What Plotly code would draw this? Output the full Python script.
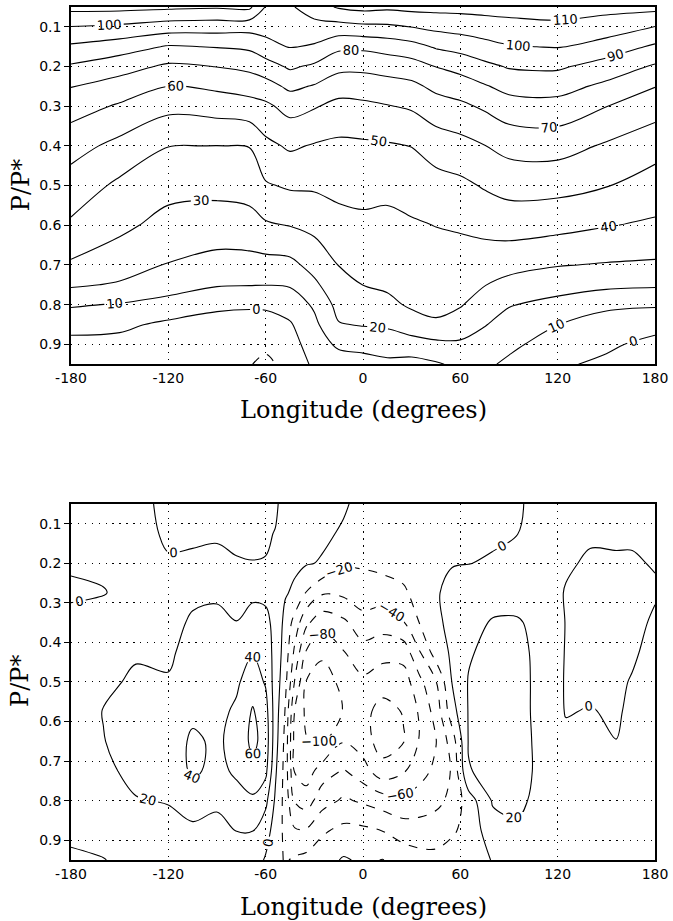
import plotly.graph_objects as go

# ---------------- data: upper panel (temperature-like field) ----------------
lon_top = [-180, -150, -120, -90, -70, -60, -45, -30, -15, 0, 15, 30, 45, 60, 75, 90, 120, 150, 180]
p_top = [0.05, 0.1, 0.15, 0.2, 0.25, 0.3, 0.4, 0.5, 0.6, 0.7, 0.75, 0.8, 0.85, 0.9, 0.95]
# one vertical profile (values at p_top) per longitude in lon_top
top_profiles = [
    [113, 99.8, 88.4, 78.8, 70.3, 64.4, 53.7, 45.7, 38.5, 28.6, 21.4, 11.1, 3.6, -3, -6],
    [113, 98.2, 84.7, 74, 65.7, 58.8, 47.2, 38, 32.3, 24.3, 19, 9.3, 2.1, -3, -6],
    [111.9, 95.1, 79.1, 68.3, 59.7, 52.8, 40.2, 33.3, 26.6, 19.5, 13.8, 6.9, -2, -6, -8],
    [111, 94.4, 80.5, 70.2, 61.9, 54.4, 39.9, 32.8, 25.4, 16.6, 10.8, 2.2, -4, -7, -9],
    [112, 93.5, 81.9, 72.4, 64.1, 56.3, 40.3, 33.8, 26.4, 16.5, 10.4, 1.3, -4, -8, -9.5],
    [99.5, 94, 86.2, 75.7, 66.1, 58, 47.5, 39, 28.8, 16.7, 10.2, 1.2, -3, -8, -12],
    [98.5, 95.3, 90.6, 81.5, 72.1, 63.5, 51.4, 41.3, 30.3, 17.4, 10.9, 4.6, -1, -4, -7],
    [106, 96, 88.9, 78.2, 69.2, 60.8, 49.2, 41.4, 32.7, 23.4, 18.1, 11.4, 7.7, 4.9, 2],
    [111, 96.4, 82.2, 72.8, 64.3, 57.2, 48, 42.7, 36.7, 30.2, 26.6, 23.2, 19.4, 11.8, 5],
    [113, 97.8, 82, 72.4, 64.7, 58, 48.4, 43.2, 37.9, 32.6, 30.1, 25.4, 20.7, 13.2, 6],
    [112, 98.3, 83.9, 73.9, 66.2, 59.5, 49, 42.5, 37.5, 33.3, 31.4, 27.9, 21.6, 14.2, 8],
    [113, 100.2, 86.4, 75.6, 67.7, 61.3, 50.2, 44.2, 38.9, 35.1, 33.2, 31.3, 26, 15.3, 7],
    [113, 102.6, 91.1, 80.2, 72.3, 65.9, 54.4, 46.3, 40.2, 35.9, 33.9, 31.9, 29, 17.4, 9],
    [113, 104, 93.4, 83.4, 75, 68, 56.7, 47.8, 41.1, 35.8, 33.3, 30.8, 25.2, 18.5, 12],
    [113, 106, 96.4, 87.6, 79.1, 71.5, 59.8, 50.9, 43, 34.5, 30.3, 25.2, 20.5, 16, 12],
    [113, 107.3, 99.2, 90.8, 83.1, 75.7, 63.2, 53.3, 44.3, 33.3, 26.9, 20.6, 16.4, 12.4, 8],
    [114, 108, 100.6, 91.5, 83.7, 76.5, 63.8, 53.2, 43, 30.5, 23.9, 17.1, 10.2, 5, 1.5],
    [113, 105.5, 95.6, 85.8, 77.7, 70.2, 58.8, 50.4, 40.5, 29.3, 22.5, 11.8, 6.2, 1.8, -2],
    [113, 99.8, 88.4, 78.8, 70.3, 64.4, 53.7, 45.7, 38.5, 28.6, 21.4, 11.1, 3.6, -3, -6],
]

# ---------------- data: lower panel (anomaly field) ----------------
lon_bot = [-180, -160, -140, -120, -105, -90, -78, -68, -60, -54, -48, -42, -35, -25, -12,
           0, 12, 25, 35, 45, 55, 65, 80, 95, 110, 125, 140, 156, 166, 180]
p_bot = [0.05, 0.125, 0.2, 0.275, 0.35, 0.425, 0.5, 0.575, 0.65, 0.725, 0.8, 0.875, 0.95]
bot_profiles = [
    [6, 5, 1.5, -2, 4, 9, 12, 14, 15, 13, 10, 4, -3],
    [6, 5, 2, -0.5, 5, 11, 16, 20.5, 19.5, 16, 12, 6, -0.5],
    [6, 6, 5, 4, 10, 18, 23, 26, 27, 25, 19, 12, 5],
    [-5, -2.5, 1.5, 6, 10, 16, 22, 27, 30, 28, 21, 14, 8],
    [-7, -3, 3, 14, 24, 29, 33, 36, 43, 43, 32, 15, 8],
    [-8, -2, 4, 17, 25, 29, 32, 35, 37, 35, 25, 12, 7],
    [-7, -3, 1, 12, 20.5, 28, 37, 43, 46, 43, 33, 20.5, 10],
    [-6, -2.5, 0.3, 16, 28, 39, 50, 62, 65, 55, 36, 20.5, 10],
    [-4, -1.5, 0.5, 15, 26, 33, 38, 48, 52, 45, 25, 8, -2],
    [-2, 0.5, 8, 13, 13, 12, 11, 10, 8, 3, -3, -8, -12],
    [5, 6, 4, 1.5, -5, -8, -13, -21, -25, -27, -27, -25, -22],
    [8, 7, 3, -3, -28, -45, -62, -82, -88, -82, -62, -38, -17],
    [7, 5, 1.5, -21, -56, -82, -101, -104, -99, -90, -70, -38, -14],
    [5, 3, -1.5, -38, -73, -96, -110, -115, -104, -70, -48, -23, -8],
    [2, -2, -17, -36, -64, -81, -94, -99, -81, -58, -37, -15, 2],
    [-5, -12, -18, -28, -48, -68, -84, -95, -90, -72, -43, -16, -3],
    [-8, -13, -14, -30, -52, -72, -93, -106, -110, -92, -50, -20.5, 0.5],
    [-8, -12, -15, -22, -41, -72, -90, -99, -101, -82, -55, -30, -7],
    [-8, -10, -14, -15, -19, -41, -65, -77, -78, -68, -50, -32, -12],
    [-6, -5, -4, -1, -3, -10, -41, -52, -61, -55, -45, -30, -14],
    [-4, -3, -0.5, 3, 4, 3, 1, -8, -30, -38, -35, -23, -10],
    [-3, -2, -0.2, 6, 12, 18, 21, 21, 21, 19, -10, -13, -10],
    [-3, -1.5, 1, 10, 22, 26, 27, 27, 27, 25, 22, 12, 1],
    [-1.5, -0.2, 3, 12, 22, 25, 26, 26, 26, 25, 23, 18, 10],
    [4, 5, 6, 9, 14, 15, 15, 15, 16, 17, 16, 13, 9],
    [4, 4, 2, -1, -0.5, -1, -1.5, -1, 4, 8, 10, 9, 7],
    [4, 2, -2, -5, -7, -7, -4, 1, 6, 9, 10, 9, 7],
    [4, 2, -1.5, -5, -7, -6, -4, -2.5, 0.2, 6, 8, 8, 7],
    [4, 2, -1.5, -5, -6, -3, 1.5, 4, 7, 8, 8, 8, 7],
    [5, 4, 1, -2, 3, 7, 9, 10, 10, 9, 8, 7, 6],
]

lon_ticks = [-180, -120, -60, 0, 60, 120, 180]
lon_ticktext = ["-180", "-120", "-60", "0", "60", "120", "180"]
p_ticks = [0.1, 0.2, 0.3, 0.4, 0.5, 0.6, 0.7, 0.8, 0.9]
p_ticktext = ["0.1", "0.2", "0.3", "0.4", "0.5", "0.6", "0.7", "0.8", "0.9"]

# contour level sets: (start, end, step)
top_pos_levels = (0, 110, 10)
top_neg_levels = (-10, -10, 10)
bot_pos_levels = (0, 60, 20)
bot_neg_levels = (-100, -20, 20)

z_top = [list(r) for r in zip(*top_profiles)]
z_bot = [list(r) for r in zip(*bot_profiles)]

LABEL_FONT = dict(family="DejaVu Sans", size=13, color="black")


def contour(x, y, z, levels, dash, xa, ya):
    s, e, d = levels
    return go.Contour(
        x=x, y=y, z=z, xaxis=xa, yaxis=ya,
        autocontour=False,
        contours=dict(start=s, end=e, size=d, coloring="none",
                      showlabels=True, labelfont=LABEL_FONT),
        line=dict(color="black", width=1.1, dash=dash, smoothing=1.0),
        showscale=False, hoverinfo="skip",
    )


fig = go.Figure()
fig.add_trace(contour(lon_top, p_top, z_top, top_pos_levels, "solid", "x", "y"))
fig.add_trace(contour(lon_top, p_top, z_top, top_neg_levels, "dash", "x", "y"))
fig.add_trace(contour(lon_bot, p_bot, z_bot, bot_pos_levels, "solid", "x2", "y2"))
fig.add_trace(contour(lon_bot, p_bot, z_bot, bot_neg_levels, "dash", "x2", "y2"))

TICK_FONT = dict(family="DejaVu Sans", size=14, color="black")
GRID = dict(showgrid=True, gridcolor="black", gridwidth=1, griddash="1.4px,5.5px",
            showline=True, mirror=True, linecolor="black", linewidth=1.6,
            zeroline=False, tickfont=TICK_FONT, ticklabeloverflow="allow")

xcommon = dict(range=[-180, 180], tickvals=lon_ticks, ticktext=lon_ticktext, ticks="", **GRID)
ycommon = dict(range=[0.95, 0.05], tickvals=p_ticks, ticktext=p_ticktext,
               ticks="outside", ticklen=5, tickcolor="black", **GRID)

TOP_DOM = [0.5813, 1.0]
BOT_DOM = [0.0, 0.4175]

fig.update_layout(
    width=673, height=921,
    margin=dict(l=71, r=12, t=5, b=61),
    paper_bgcolor="white", plot_bgcolor="white",
    showlegend=False,
    xaxis=dict(domain=[0, 1], anchor="y", **xcommon),
    yaxis=dict(domain=TOP_DOM, anchor="x", **ycommon),
    xaxis2=dict(domain=[0, 1], anchor="y2", **xcommon),
    yaxis2=dict(domain=BOT_DOM, anchor="x2", **ycommon),
)

TITLE_FONT = dict(family="DejaVu Serif", size=24, color="black")
annos = []
for dom, ytitle_y, xtitle_y in [(TOP_DOM, 0.7906, 0.5275), (BOT_DOM, 0.2094, -0.055)]:
    annos.append(dict(text="P/P*", xref="paper", yref="paper", x=-0.0864, y=ytitle_y,
                      textangle=-90, showarrow=False, font=TITLE_FONT,
                      xanchor="center", yanchor="middle"))
    annos.append(dict(text="Longitude (degrees)", xref="paper", yref="paper", x=0.5,
                      y=xtitle_y, showarrow=False, font=TITLE_FONT,
                      xanchor="center", yanchor="middle"))
fig.update_layout(annotations=annos)

fig.write_html("out.html", config={"displayModeBar": False},
               post_script="document.body.style.margin='0';")
